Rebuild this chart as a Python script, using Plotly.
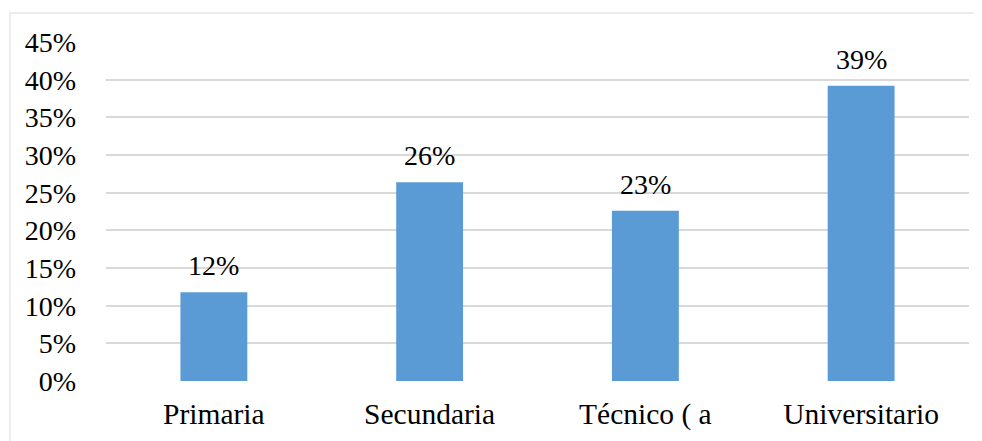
import plotly.graph_objects as go

categories = ["Primaria", "Secundaria", "Técnico ( a", "Universitario"]
values = [0.118, 0.264, 0.226, 0.392]
labels = ["12%", "26%", "23%", "39%"]
y_ticks = [0, 0.05, 0.10, 0.15, 0.20, 0.25, 0.30, 0.35, 0.40, 0.45]
y_tick_text = ["0%", "5%", "10%", "15%", "20%", "25%", "30%", "35%", "40%", "45%"]

OFF = 8  # default page body margin
W, H = 982 - OFF, 441 - OFF
L, R, T, B = 106 - OFF, 13, 42 - OFF, 59.5
FONT = "Liberation Serif, Times New Roman, serif"

fig = go.Figure()
fig.add_trace(go.Bar(
    x=categories, y=values,
    marker=dict(color="#5b9bd5", line=dict(width=0)),
    hoverinfo="skip",
))

for c, v, t in zip(categories, values, labels):
    fig.add_annotation(x=c, y=v, text=t, showarrow=False, yanchor="bottom",
                       yshift=9, font=dict(family=FONT, size=28, color="#000000"))

pw = W - L - R
ph = H - T - B
fig.add_shape(type="rect", xref="paper", yref="paper",
              x0=(10 - OFF - L) / pw, x1=(W + 20 - L) / pw,
              y0=-(H + 20 - T - ph) / ph, y1=(ph + T - (13 - OFF)) / ph,
              line=dict(color="#e6e6e6", width=1.5), fillcolor="rgba(0,0,0,0)", layer="below")

fig.update_layout(
    width=W, height=H,
    margin=dict(l=L, r=R, t=T, b=B, pad=0, autoexpand=False),
    paper_bgcolor="white", plot_bgcolor="white",
    bargap=0.69,
    showlegend=False,
    font=dict(family=FONT, size=28, color="#000000"),
    xaxis=dict(showgrid=False, showline=False, zeroline=False, ticks="",
               automargin=False,
               tickfont=dict(family=FONT, size=29.5, color="#000000"),
               ticklabelstandoff=12),
    yaxis=dict(range=[0, 0.4502], tickvals=y_ticks, ticktext=y_tick_text,
               automargin=False,
               showgrid=True, gridcolor="#d9d9d9", gridwidth=2,
               zeroline=False, showline=False, ticks="",
               tickfont=dict(family=FONT, size=28, color="#000000"),
               ticklabelstandoff=29),
)

fig.write_html("out.html")
